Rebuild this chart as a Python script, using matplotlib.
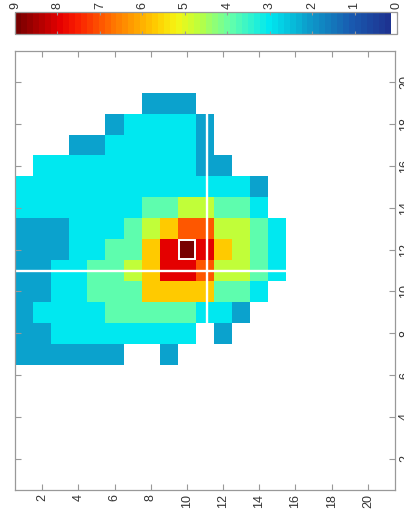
import numpy as np
import matplotlib
matplotlib.use("Agg")
import matplotlib.pyplot as plt
from matplotlib.colors import LinearSegmentedColormap, ListedColormap
from matplotlib.patches import Rectangle

# ---------------- data ----------------
row_index = list(range(1, 22))          # shown on the bottom axis
col_index = list(range(1, 22))          # shown on the right axis
tick_values = [2, 4, 6, 8, 10, 12, 14, 16, 18, 20]
cbar_ticks = [0, 1, 2, 3, 4, 5, 6, 7, 8, 9]

# grid values: one list per column index, from 21 (top) down to 1 (bottom),
# each list holds row index 1..21 (left to right)
grid = [
    [0.0]*21,                                                                  # 21
    [0.0]*21,                                                                  # 20
    [0,0,0,0,0,0,0,2.2,2.2,2.2,0,0,0,0,0,0,0,0,0,0,0],                          # 19
    [0,0,0,0,0,2.2,3.0,3.0,3.0,3.0,2.2,0,0,0,0,0,0,0,0,0,0],                    # 18
    [0,0,0,2.2,2.2,3.0,3.0,3.0,3.0,3.0,2.2,0,0,0,0,0,0,0,0,0,0],                # 17
    [0,3.0,3.0,3.0,3.0,3.0,3.0,3.0,3.0,3.0,2.2,2.2,0,0,0,0,0,0,0,0,0],          # 16
    [3.0,3.0,3.0,3.0,3.0,3.0,3.0,3.0,3.0,3.0,3.0,3.0,3.0,2.2,0,0,0,0,0,0,0],    # 15
    [3.0,3.0,3.0,3.0,3.0,3.0,3.0,3.9,3.9,4.7,4.7,3.9,3.9,3.0,0,0,0,0,0,0,0],    # 14
    [2.2,2.2,2.2,3.0,3.0,3.0,3.9,4.7,5.7,6.9,6.9,4.7,4.7,3.9,3.0,0,0,0,0,0,0],  # 13
    [2.2,2.2,2.2,3.0,3.0,3.9,3.9,5.7,8.0,9.0,8.0,5.7,4.7,3.9,3.0,0,0,0,0,0,0],  # 12
    [2.2,2.2,3.0,3.0,3.9,3.9,4.7,5.7,8.0,8.0,6.9,4.7,4.7,3.9,3.0,0,0,0,0,0,0],  # 11
    [2.2,2.2,3.0,3.0,3.9,3.9,3.9,5.7,5.7,5.7,5.7,3.9,3.9,3.0,0,0,0,0,0,0,0],    # 10
    [2.2,3.0,3.0,3.0,3.0,3.9,3.9,3.9,3.9,3.9,3.0,3.0,2.2,0,0,0,0,0,0,0,0],      # 9
    [2.2,2.2,3.0,3.0,3.0,3.0,3.0,3.0,3.0,3.0,0,2.2,0,0,0,0,0,0,0,0,0],          # 8
    [2.2,2.2,2.2,2.2,2.2,2.2,0,0,2.2,0,0,0,0,0,0,0,0,0,0,0,0],                  # 7
    [0.0]*21,                                                                  # 6
    [0.0]*21,                                                                  # 5
    [0.0]*21,                                                                  # 4
    [0.0]*21,                                                                  # 3
    [0.0]*21,                                                                  # 2
    [0.0]*21,                                                                  # 1
]

# white cross-hair (row position, column position and their extents)
cross_row = 11.1
cross_row_span = [8.5, 18.5]
cross_col = 11.0
cross_col_span = [0.5, 15.5]

# colormap anchors (value, colour)
cmap_values = [0.0, 1.0, 2.2, 3.0, 3.9, 4.7, 5.2, 5.7, 6.9, 7.6, 8.0, 9.0]
cmap_colors = ["#1e2d8c", "#195aaf", "#0aa8d0", "#00e8f0", "#64ffaa", "#beff3c",
               "#f5f514", "#ffcc00", "#ff6400", "#fa1e00", "#e60000", "#780000"]

# ---------------- styling ----------------
plt.rcParams["font.family"] = ["Liberation Sans", "DejaVu Sans"]
label_color = "#333333"
axis_color = "#999999"
fs = 9

vmin, vmax = 0, 9
base = LinearSegmentedColormap.from_list(
    "c", [((v - vmin) / (vmax - vmin), c) for v, c in zip(cmap_values, cmap_colors)])
colors = base(np.linspace(0, 1, 64))
colors[0] = (1, 1, 1, 1)
cmap = ListedColormap(colors)

Z = np.array(grid, dtype=float)

fig = plt.figure(figsize=(4.04, 5.18), dpi=100)
W, H = 404, 518

def frac(x0, y0, x1, y1):
    return [x0 / W, 1 - y1 / H, (x1 - x0) / W, (y1 - y0) / H]

ax = fig.add_axes(frac(15, 51, 395, 490))
im = ax.imshow(Z, cmap=cmap, vmin=vmin, vmax=vmax, origin="upper",
               extent=(row_index[0] - 0.5, row_index[-1] + 0.5,
                       col_index[0] - 0.5, col_index[-1] + 0.5),
               aspect="auto", interpolation="nearest")
ax.set_xlim(row_index[0] - 0.5, row_index[-1] + 0.5)
ax.set_ylim(col_index[0] - 0.5, col_index[-1] + 0.5)

# cross-hair
ax.plot([cross_row, cross_row], cross_row_span, color="white", lw=1.7, solid_capstyle="butt")
ax.plot(cross_col_span, [cross_col, cross_col], color="white", lw=1.7, solid_capstyle="butt")

# box around the maximum cell
imax = np.unravel_index(np.argmax(Z), Z.shape)
max_row = row_index[imax[1]]
max_col = col_index[::-1][imax[0]]
ax.add_patch(Rectangle((max_row - 0.42, max_col - 0.45), 0.84, 0.9, fill=False,
                       edgecolor="white", lw=1.4))

ax.set_xticks(tick_values)
ax.set_xticklabels([str(t) for t in tick_values], rotation=90)
ax.set_yticks(tick_values)
ax.set_yticklabels([str(t) for t in tick_values], rotation=90, va="center")
ax.tick_params(axis="both", which="both", direction="in", length=4, width=0.8,
               colors=axis_color, labelcolor=label_color, labelsize=fs,
               top=True, bottom=True, left=True, right=True,
               labelleft=False, labelright=True, labeltop=False, labelbottom=True,
               pad=3)
for s in ax.spines.values():
    s.set_color(axis_color)
    s.set_linewidth(0.9)

# colour bar on top
cax = fig.add_axes(frac(15, 12, 397, 34))
cb = fig.colorbar(im, cax=cax, orientation="horizontal")
cax.set_xlim(vmax, vmin)
cb.set_ticks(cbar_ticks)
cax.xaxis.set_ticks_position("both")
cax.xaxis.set_label_position("top")
cax.tick_params(axis="x", direction="in", length=2.5, width=0.8, colors=axis_color,
                labelcolor=label_color, labelsize=fs, top=True, bottom=True,
                labeltop=True, labelbottom=False, pad=2)
for lab in cax.get_xticklabels():
    lab.set_rotation(90)
cb.outline.set_edgecolor(axis_color)
cb.outline.set_linewidth(0.9)

fig.savefig("out.png", dpi=100)
